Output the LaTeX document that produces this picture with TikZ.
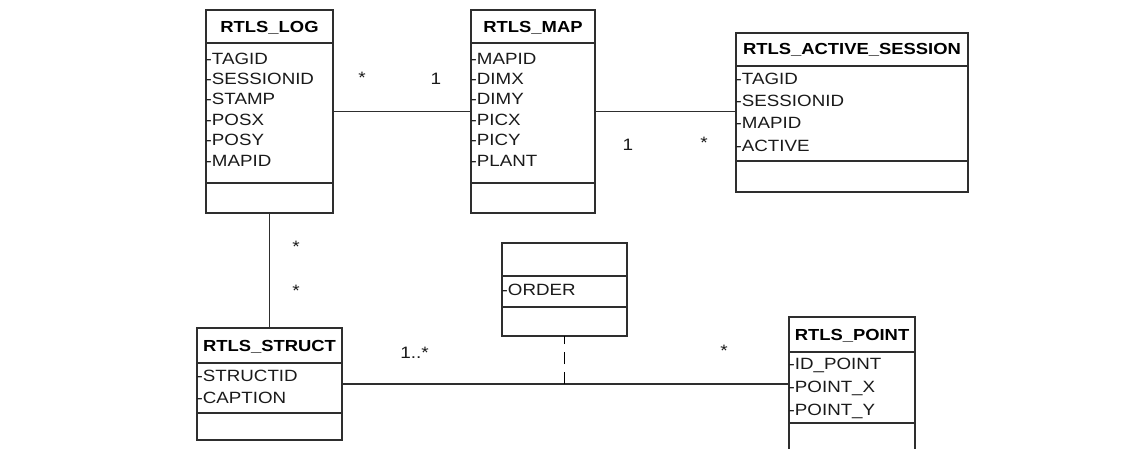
\documentclass[tikz,border=0pt]{standalone}
\usepackage{fontspec}
\usetikzlibrary{fit}
\newfontfamily\umlfont[FakeStretch=1.15]{Liberation Sans}
\definecolor{linec}{HTML}{2E2E2E}
\definecolor{textc}{HTML}{1A1A1A}
\tikzset{
  cls/.style={draw=linec, line width=1.5pt, inner sep=0pt, outer sep=0pt},
  sepline/.style={draw=linec, line width=1.5pt},
  ttl/.style={font=\umlfont\bfseries\fontsize{16}{19}\selectfont, text=black, anchor=base, inner sep=0pt},
  attr/.style={font=\umlfont\fontsize{16.3}{19}\selectfont, text=textc, anchor=base west, inner sep=0pt},
  mult/.style={font=\umlfont\fontsize{16.5}{19}\selectfont, text=textc, anchor=base, inner sep=0pt},
  conn/.style={draw=linec, line width=1.5pt},
  dashconn/.style={draw=black, line width=1.5pt, dash pattern=on 12pt off 8pt}
}
\newcommand\umlbox[7]{%
  \node[cls, fit={(#2,#3) (#4,#5)}] (#1) {};
  \draw[sepline] (#1.west |- 0,#6) -- (#1.east |- 0,#6);
  \draw[sepline] (#1.west |- 0,#7) -- (#1.east |- 0,#7);
}
\begin{document}
\begin{tikzpicture}[x=1pt,y=-1pt]
\useasboundingbox (0,0) rectangle (1145,448);

% RTLS_LOG
\umlbox{log}{206}{10}{333}{213}{43}{183}
\node[ttl] (logT) at (269.5,32) {RTLS\_LOG};
\node[attr] (log1) at (205.5,64) {-TAGID};
\node[attr] (log2) at (205.5,84.4) {-SESSIONID};
\node[attr] (log3) at (205.5,104.8) {-STAMP};
\node[attr] (log4) at (205.5,125.2) {-POSX};
\node[attr] (log5) at (205.5,145.6) {-POSY};
\node[attr] (log6) at (205.5,166) {-MAPID};

% RTLS_MAP
\umlbox{map}{471}{10}{595}{213}{43}{183}
\node[ttl] (mapT) at (533,32) {RTLS\_MAP};
\node[attr] (map1) at (470.5,64) {-MAPID};
\node[attr] (map2) at (470.5,84.4) {-DIMX};
\node[attr] (map3) at (470.5,104.8) {-DIMY};
\node[attr] (map4) at (470.5,125.2) {-PICX};
\node[attr] (map5) at (470.5,145.6) {-PICY};
\node[attr] (map6) at (470.5,166) {-PLANT};

% RTLS_ACTIVE_SESSION
\umlbox{act}{736}{33}{968}{192}{66}{161}
\node[ttl] (actT) at (852,54.5) {RTLS\_ACTIVE\_SESSION};
\node[attr] (act1) at (735.5,84.5) {-TAGID};
\node[attr] (act2) at (735.5,106) {-SESSIONID};
\node[attr] (act3) at (735.5,128.5) {-MAPID};
\node[attr] (act4) at (735.5,151) {-ACTIVE};

% RTLS_STRUCT
\umlbox{struct}{197}{328}{342}{440}{363}{413}
\node[ttl] (structT) at (269.5,351) {RTLS\_STRUCT};
\node[attr] (struct1) at (196.5,381) {-STRUCTID};
\node[attr] (struct2) at (196.5,403) {-CAPTION};

% RTLS_POINT
\umlbox{point}{789}{317}{915}{453}{352}{423}
\node[ttl] (pointT) at (852,340) {RTLS\_POINT};
\node[attr] (point1) at (788.5,369) {-ID\_POINT};
\node[attr] (point2) at (788.5,392.5) {-POINT\_X};
\node[attr] (point3) at (788.5,415) {-POINT\_Y};

% association class
\umlbox{order}{502}{243}{627}{336}{276}{307}
\node[attr] (order1) at (501.5,295) {-ORDER};

% connectors
\draw[conn] (log) -- (map);
\draw[conn] (map.east) -- (map.east -| act.west);
\draw[conn] (log) -- (struct);
\draw[conn] (struct.east) -- (struct.east -| point.west);
\coordinate (j) at (order.south |- struct.east);
\draw[dashconn] (j) -- (order.south);

% multiplicities
\node[mult] (m1) at (362,83) {*};
\node[mult] (m2) at (436,84) {1};
\node[mult] (m3) at (628,150) {1};
\node[mult] (m4) at (704,148) {*};
\node[mult] (m5) at (296,252.5) {*};
\node[mult] (m6) at (296,296.5) {*};
\node[mult] (m7) at (414.5,358) {1..*};
\node[mult] (m8) at (724,356) {*};
\end{tikzpicture}
\end{document}
